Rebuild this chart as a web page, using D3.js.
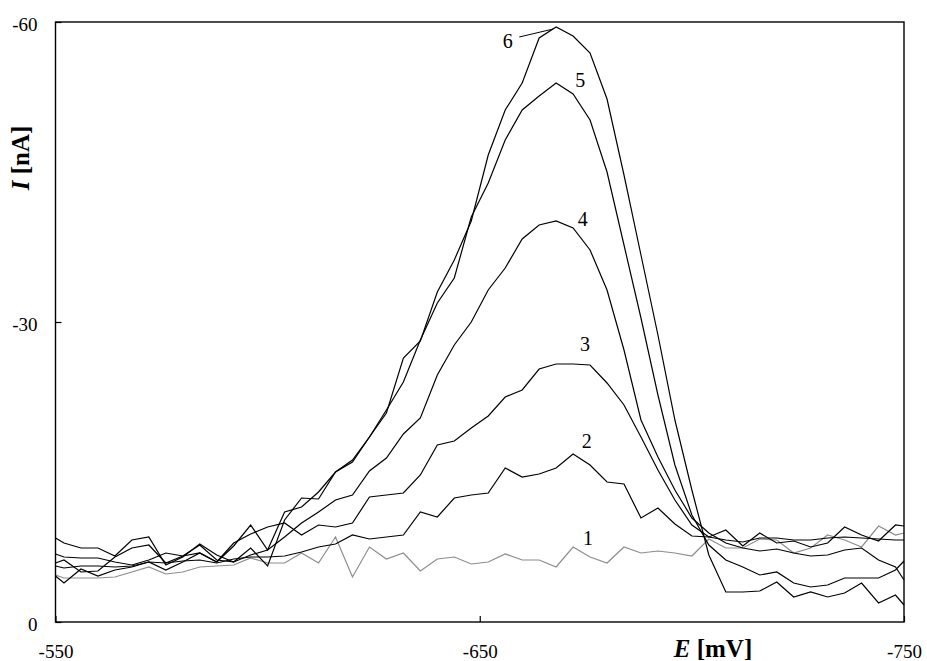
<!DOCTYPE html>
<html><head><meta charset="utf-8">
<script src="https://cdn.jsdelivr.net/npm/d3@7"></script>
<style>
html,body{margin:0;padding:0;background:#fff;}
svg{display:block;}
text{font-family:"Liberation Serif","Times New Roman",serif;fill:#000;}
</style></head>
<body>
<svg id="chart" width="927" height="661"></svg>
<script>
// Potential E [mV]
const potentials = [-550, -552, -556, -560, -564, -568, -572, -576, -580, -584, -588, -592, -596, -600, -604, -608, -612, -616, -620, -624, -628, -632, -636, -640, -644, -648, -652, -656, -660, -664, -668, -672, -676, -680, -684, -688, -692, -696, -700, -704, -708, -712, -716, -720, -724, -728, -732, -736, -740, -744, -748, -750];

// Currents I [nA] for curves 1..6
const curve1 = [-4.7, -4.4, -4.4, -4.4, -4.5, -5.0, -5.5, -4.8, -5.0, -5.5, -5.6, -5.7, -6.4, -5.9, -5.9, -6.9, -5.9, -8.5, -4.5, -7.5, -6.3, -6.9, -5.1, -6.3, -6.5, -5.8, -6.0, -6.8, -6.2, -6.2, -5.5, -7.5, -6.5, -5.9, -7.5, -6.9, -7.1, -6.9, -6.6, -8.3, -7.4, -7.4, -8.3, -8.2, -6.9, -7.4, -8.7, -8.2, -7.5, -9.6, -8.7, -8.9];
const curve2 = [-5.6, -5.4, -5.6, -5.6, -5.5, -5.6, -6.0, -5.9, -6.1, -6.2, -5.9, -6.3, -6.5, -6.5, -6.6, -7.0, -7.5, -7.8, -8.7, -8.3, -8.5, -8.7, -11.0, -10.5, -12.4, -12.7, -12.9, -15.4, -14.5, -14.8, -15.4, -16.8, -15.7, -14.0, -13.8, -10.4, -11.4, -9.8, -8.6, -8.5, -9.2, -7.6, -8.9, -7.9, -8.1, -7.5, -7.9, -9.5, -8.7, -8.1, -9.7, -9.6];
const curve3 = [-4.6, -3.9, -5.3, -4.6, -5.2, -5.5, -6.0, -5.2, -6.0, -6.9, -6.0, -7.9, -8.8, -9.5, -9.9, -8.7, -9.7, -9.5, -9.9, -12.5, -12.7, -12.9, -14.7, -17.7, -18.1, -19.4, -20.6, -22.5, -23.2, -25.3, -25.8, -25.8, -25.7, -23.9, -21.7, -18.5, -15.2, -12.2, -9.7, -8.5, -8.2, -8.0, -8.4, -8.4, -8.2, -8.2, -8.4, -8.5, -8.4, -8.3, -8.2, -8.2];
const curve4 = [-5.9, -6.2, -5.0, -5.1, -6.5, -7.4, -7.7, -5.9, -6.6, -7.7, -6.2, -6.0, -6.7, -7.2, -8.5, -9.9, -11.0, -12.2, -12.7, -15.1, -16.4, -18.8, -20.4, -24.7, -27.7, -30.0, -33.2, -35.4, -38.3, -39.7, -40.1, -39.4, -37.2, -33.2, -27.2, -20.2, -16.5, -13.2, -10.4, -8.9, -7.9, -7.4, -7.1, -7.3, -6.9, -6.6, -6.7, -7.2, -7.4, -6.2, -5.5, -4.2];
const curve5 = [-6.8, -6.5, -6.4, -6.4, -6.0, -5.7, -6.2, -6.9, -6.6, -6.9, -6.0, -7.6, -9.7, -7.2, -11.0, -11.5, -13.0, -15.0, -16.0, -18.5, -21.2, -24.0, -28.2, -31.9, -34.4, -40.5, -43.9, -48.2, -51.2, -52.6, -53.9, -52.8, -50.2, -45.0, -37.7, -30.4, -22.7, -15.7, -10.7, -7.7, -6.2, -5.5, -4.7, -5.0, -3.9, -3.5, -3.7, -4.4, -4.4, -4.4, -5.2, -6.1];
const curve6 = [-8.4, -7.9, -7.4, -7.4, -6.6, -8.2, -8.5, -5.7, -6.5, -7.8, -6.7, -6.0, -7.4, -5.6, -10.2, -12.4, -12.3, -15.0, -16.2, -18.5, -20.9, -26.4, -28.1, -33.0, -36.2, -40.1, -46.7, -51.2, -53.9, -58.4, -59.5, -58.6, -56.9, -52.3, -44.7, -36.7, -28.7, -20.2, -13.2, -6.7, -3.0, -3.0, -3.1, -4.0, -2.5, -3.0, -2.5, -2.9, -3.9, -1.9, -2.7, -1.7];

const curveNames = ["1", "2", "3", "4", "5", "6"];
const curveColors = ["#8c8c8c", "#000", "#000", "#000", "#000", "#000"];
const xTicks = [-550, -650, -750];
const yTicks = [0, -30, -60];
// label anchor positions in data units [E, I]
const labelE = [-675.5, -675.2, -674.8, -674.3, -673.7, -656.6];
const labelI = [-7.7, -17.4, -27.1, -39.6, -53.5, -57.4];

const svg = d3.select("#chart");
const L = 55.5, R = 904, T = 22, B = 622;
const x = d3.scaleLinear().domain([-550, -750]).range([L, R]);
const y = d3.scaleLinear().domain([0, -60]).range([B, T]);

const series = [curve1, curve2, curve3, curve4, curve5, curve6];

const line = d3.line().x((d, i) => x(potentials[i])).y(d => y(d));

svg.append("g").selectAll("path").data(series).join("path")
  .attr("d", d => line(d))
  .attr("fill", "none")
  .attr("stroke", (d, i) => curveColors[i])
  .attr("stroke-width", 1.2)
  .attr("stroke-linejoin", "miter");

// frame
svg.append("rect").attr("x", L).attr("y", T).attr("width", R - L).attr("height", B - T)
  .attr("fill", "none").attr("stroke", "#000").attr("stroke-width", 1.4);

// axes
const xAxis = d3.axisBottom(x).tickValues(xTicks).tickSizeInner(-6).tickSizeOuter(0).tickPadding(23).tickFormat(d3.format("d"));
const gx = svg.append("g").attr("transform", `translate(0,${B})`).call(xAxis);
gx.select(".domain").remove();
gx.selectAll("line").attr("stroke", "#000").attr("stroke-width", 1.2);
gx.selectAll("text").attr("font-size", 19).attr("font-family", "Liberation Serif").text(d => String(d));

const yAxis = d3.axisLeft(y).tickValues(yTicks).tickSizeInner(-6).tickSizeOuter(0).tickPadding(18).tickFormat(d3.format("d"));
const gy = svg.append("g").attr("transform", `translate(${L},0)`).call(yAxis);
gy.select(".domain").remove();
gy.selectAll("line").attr("stroke", "#000").attr("stroke-width", 1.2);
gy.selectAll("text").attr("font-size", 19).attr("font-family", "Liberation Serif").attr("dy", "0.45em").text(d => String(d));

// axis titles
const xt = svg.append("text").attr("x", 713).attr("y", 657).attr("text-anchor", "middle")
  .attr("font-size", 25).attr("font-weight", "bold");
xt.append("tspan").attr("font-style", "italic").text("E");
xt.append("tspan").text(" [mV]");

const yt = svg.append("text").attr("transform", "translate(29,158) rotate(-90)").attr("text-anchor", "middle")
  .attr("font-size", 25).attr("font-weight", "bold");
yt.append("tspan").attr("font-style", "italic").text("I");
yt.append("tspan").text(" [nA]");

// curve labels
svg.append("g").selectAll("text").data(curveNames).join("text")
  .attr("x", (d, i) => x(labelE[i]))
  .attr("y", (d, i) => y(labelI[i]))
  .attr("text-anchor", "middle")
  .attr("font-size", 20)
  .text(d => d);

// leader line for label 6
svg.append("line")
  .attr("x1", x(-659.3)).attr("y1", y(-58.5))
  .attr("x2", x(-667.3)).attr("y2", y(-59.3))
  .attr("stroke", "#000").attr("stroke-width", 1);
</script>
</body></html>
